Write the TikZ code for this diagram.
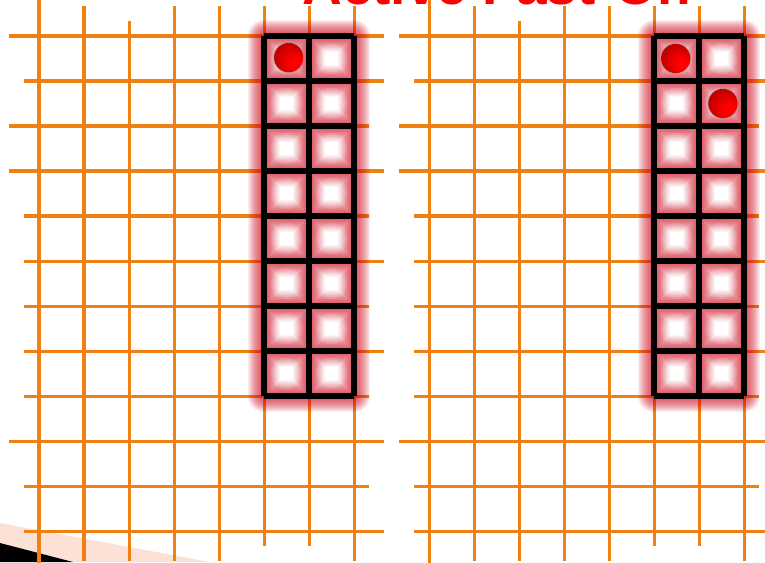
\documentclass[tikz,border=0pt]{standalone}
\usepackage{fontspec}
\setmainfont{Liberation Sans}
\usetikzlibrary{calc}
\definecolor{gridorange}{RGB}{240,128,16}
\definecolor{peach}{RGB}{252,226,214}
\definecolor{glowred}{RGB}{205,10,30}
\pgfdeclareradialshading{redball}{\pgfpoint{12bp}{-12bp}}{color(0bp)=(red); color(8bp)=(red); color(30bp)=(red!75!black); color(50bp)=(red!40!black)}

\begin{document}
\begin{tikzpicture}[
  gridline/.style={draw=gridorange, line width=1.9pt},
  glow/.style={draw=glowred, opacity=0.075, line cap=round, line join=round},
  spot/.style={fill=white, opacity=0.13},
  cellline/.style={draw=black, line width=3.2pt},
  ball/.style={circle, minimum size=0.667cm, inner sep=0pt, shading=redball,
               draw=black!35, line width=0.3pt},
  title/.style={font=\bfseries\fontsize{34.8}{40}\selectfont, text=red,
                anchor=base, inner sep=0pt}
]
\useasboundingbox (-0.8667,-0.6889) rectangle (16.1333,11.8);
\clip (-0.8667,-0.6889) rectangle (16.1333,11.8);

%% corner decoration
\fill[peach] (-0.8667,0.1778) -- (3.8,-0.6889) -- (0.7556,-0.6889) -- (-0.8667,-0.2667) -- cycle;
\fill[black] (-0.8667,-0.2667) -- (0.7556,-0.6889) -- (-0.8667,-0.6889) -- cycle;

%% two boards, the right one shifted
\foreach \dx in {0, 8.6667} {
  \begin{scope}[xshift=\dx cm]
    %% orange grid, ragged ends
    \foreach \k/\l/\r in {0/1/2, 1/1/1, 2/2/2, 3/1/1, 4/1/2, 5/1/1,
                          6/1/2, 7/1/1, 8/2/2, 9/2/1, 10/1/2, 11/2/2}
      \draw[gridline] (-\l/3, \k) -- (7+\r/3, \k);
    \foreach \i/\b/\t in {0/3/3, 1/2/2, 2/2/1, 3/2/2, 4/2/2, 5/1/2, 6/1/2, 7/2/2}
      \draw[gridline] (\i, -\b/3) -- (\i, 11+\t/3);
    %% red glow behind the board
    \foreach \w in {2,4,...,32}
      \draw[glow, line width={\w*0.632pt}] (5,3) grid (7,11);
    %% soft white middle of each cell
    \foreach \cx in {5.5,6.5}
      \foreach \cy in {3.5,4.5,...,10.5}
        \foreach \r in {0.1,0.15,...,0.36}
          \fill[spot] (\cx,\cy) circle (\r);
    %% board
    \draw[cellline] (5,3) grid (7,11);
  \end{scope}
}

%% pieces
\node[ball] (ballL)  at (5.55,10.52)   {};
\node[ball] (ballR1) at (14.15,10.5)   {};
\node[ball] (ballR2) at (15.2,9.5)     {};

%% heading, cut by the top edge
\node[title] (heading) at (10.167,11.689) {Active Fast-On};
\end{tikzpicture}
\end{document}
